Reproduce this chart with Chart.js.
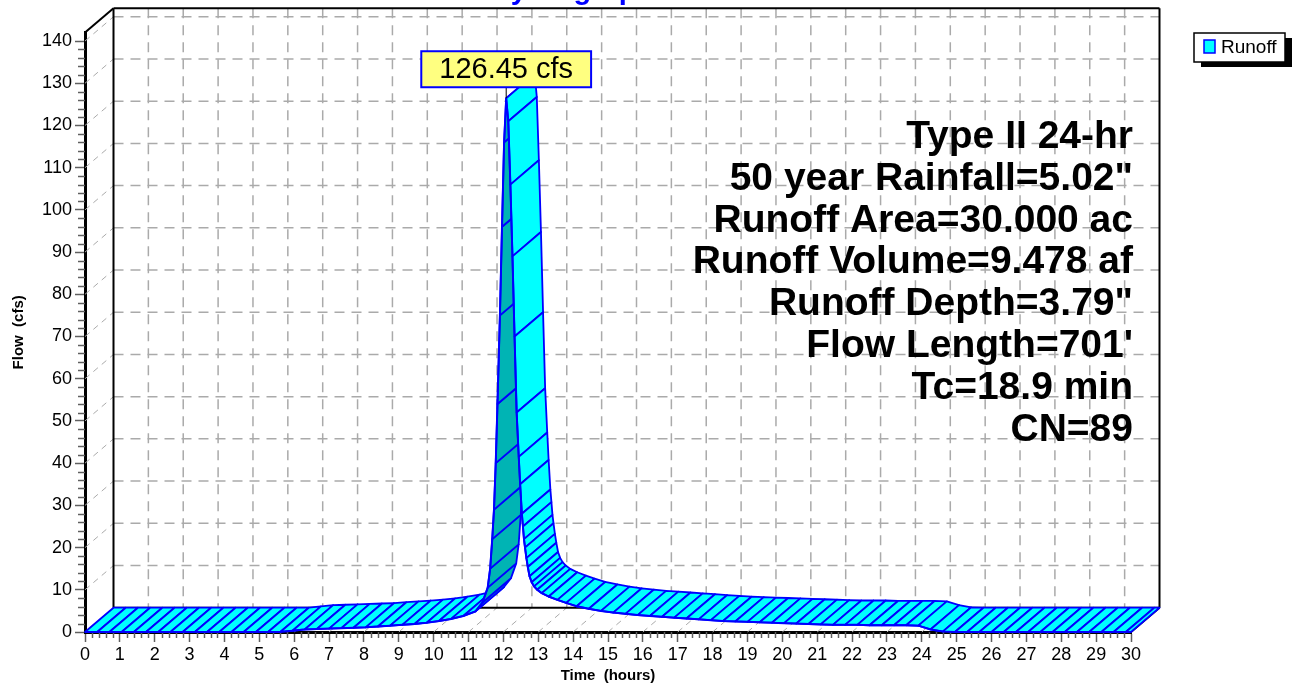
<!DOCTYPE html>
<html>
<head>
<meta charset="utf-8">
<title>Hydrograph</title>
<script src="https://cdn.jsdelivr.net/npm/chart.js@4.4.1/dist/chart.umd.min.js"></script>
<style>
  html, body { margin: 0; padding: 0; background: #fff; }
  #wrap { position: relative; width: 1294px; height: 685px; }
</style>
</head>
<body>
<div id="wrap"><canvas id="hydroChart" width="1294" height="685"></canvas></div>
<script>
// hydrograph values (time in hours, flow in cfs)
const timeHours = [
  0, 0.35, 0.7, 1.05, 1.4, 1.75, 2.1, 2.45, 2.8, 3.15,
  3.5, 3.85, 4.2, 4.55, 4.9, 5.25, 5.6, 5.95, 6.3, 6.65,
  7.0, 7.35, 7.7, 8.05, 8.4, 8.75, 9.1, 9.45, 9.8, 10.15,
  10.5, 10.85, 11.2, 11.4, 11.55, 11.62, 11.68, 11.73, 11.78, 11.83,
  11.9, 11.96, 12.02, 12.08, 12.14, 12.2, 12.26, 12.32, 12.38, 12.44,
  12.48, 12.53, 12.56, 12.59, 12.62, 12.66, 12.7, 12.75, 12.81, 12.88,
  12.97, 13.1, 13.3, 13.55, 13.8, 14.1, 14.45, 14.8, 15.15, 15.5,
  15.85, 16.2, 16.55, 16.9, 17.25, 17.6, 17.95, 18.3, 18.65, 19.0,
  19.35, 19.7, 20.05, 20.4, 20.75, 21.1, 21.45, 21.8, 22.15, 22.5,
  22.85, 23.2, 23.55, 23.9, 24.25, 24.6, 24.95, 25.3, 25.65, 26.0,
  26.35, 26.7, 27.05, 27.4, 27.75, 28.1, 28.45, 28.8, 29.15, 29.5,
  29.85, 30
];
const runoffCfs = [
  0, 0, 0, 0, 0, 0, 0, 0, 0, 0,
  0, 0, 0, 0, 0, 0, 0, 0.3, 0.6, 0.7,
  0.8, 0.9, 1.0, 1.1, 1.3, 1.5, 1.7, 1.9, 2.2, 2.6,
  3.1, 3.8, 4.9, 7.0, 10.5, 15, 22, 29, 40, 54,
  75, 96, 116, 126.45, 121, 106, 89, 70, 52, 41.5,
  35, 28, 25, 22, 20, 17.5, 15.4, 13.2, 11.8, 10.8,
  10.0, 9.2, 8.4, 7.6, 6.9, 6.1, 5.5, 5.0, 4.6, 4.3,
  4.0, 3.8, 3.6, 3.4, 3.2, 3.0, 2.8, 2.6, 2.5, 2.4,
  2.3, 2.2, 2.1, 2.0, 1.9, 1.8, 1.7, 1.7, 1.7, 1.6,
  1.6, 1.6, 1.6, 1.5, 0.6, 0.1, 0, 0, 0, 0,
  0, 0, 0, 0, 0, 0, 0, 0, 0, 0,
  0, 0
];

const xTickLabels = [0, 1, 2, 3, 4, 5, 6, 7, 8, 9, 10, 11, 12, 13, 14, 15,
  16, 17, 18, 19, 20, 21, 22, 23, 24, 25, 26, 27, 28, 29, 30];
const yTickLabels = [0, 10, 20, 30, 40, 50, 60, 70, 80, 90, 100, 110, 120, 130, 140];

const seriesName = 'Runoff';
const chartTitle = 'Hydrograph';
const summaryLines = [
  'Type II 24-hr',
  '50 year Rainfall=5.02"',
  'Runoff Area=30.000 ac',
  'Runoff Volume=9.478 af',
  'Runoff Depth=3.79"',
  "Flow Length=701'",
  'Tc=18.9 min',
  'CN=89'
];

// depth of the 3d box, in pixels
const DX = 28.5;
const DY = -24.3;
const FONT = "'Liberation Sans', Arial, sans-serif";

const points = timeHours.map((t, i) => ({ x: t, y: runoffCfs[i] }));

function line(ctx, x1, y1, x2, y2) {
  ctx.beginPath();
  ctx.moveTo(x1, y1);
  ctx.lineTo(x2, y2);
  ctx.stroke();
}

const box3d = {
  id: 'box3d',
  beforeDatasetsDraw(chart) {
    const ctx = chart.ctx;
    const a = chart.chartArea;
    const xs = chart.scales.x, ys = chart.scales.y;
    const bx0 = a.left + DX, bx1 = a.right + DX;
    const byTop = a.top + DY, byBot = a.bottom + DY;

    ctx.save();
    // back wall grid
    ctx.strokeStyle = '#aaaaaa';
    ctx.lineWidth = 1.5;
    ctx.setLineDash([10, 7]);
    xTickLabels.forEach(t => {
      if (t === 0 || t === 30) return;
      const x = xs.getPixelForValue(t) + DX;
      line(ctx, x, byTop, x, byBot);
    });
    yTickLabels.forEach(v => {
      if (v === 0) return;
      const y = ys.getPixelForValue(v) + DY;
      line(ctx, bx0, y, bx1, y);
    });
    // floor and left wall grid
    ctx.lineWidth = 1;
    ctx.setLineDash([6, 5]);
    xTickLabels.forEach(t => {
      if (t === 0) return;
      const x = xs.getPixelForValue(t);
      line(ctx, x, a.bottom, x + DX, byBot);
    });
    yTickLabels.forEach(v => {
      if (v === 0) return;
      const y = ys.getPixelForValue(v);
      line(ctx, a.left, y, a.left + DX, y + DY);
    });
    ctx.setLineDash([]);

    // box frame
    ctx.strokeStyle = '#000';
    ctx.lineWidth = 2;
    line(ctx, bx0, byTop, bx1, byTop);
    line(ctx, bx0, byTop, bx0, byBot);
    line(ctx, bx1, byTop, bx1, byBot);
    line(ctx, bx0, byBot, bx1, byBot);
    line(ctx, a.left, a.top, bx0, byTop);
    line(ctx, a.right, a.bottom, bx1, byBot);

    // minor ticks
    ctx.strokeStyle = '#606060';
    ctx.lineWidth = 1.5;
    for (let v = 2; v < 142; v += 2) {
      if (v % 10 === 0) continue;
      const y = Math.round(ys.getPixelForValue(v)) + 0.5;
      line(ctx, a.left - 7, y, a.left, y);
    }
    for (let k = 1; k < 150; k++) {
      if (k % 5 === 0) continue;
      const x = Math.round(xs.getPixelForValue(k / 5)) + 0.5;
      line(ctx, x, a.bottom, x, a.bottom + 6);
    }

    // ribbon surface built from the dataset points
    const pts = chart.getDatasetMeta(0).data;
    ctx.lineJoin = 'round';
    ctx.strokeStyle = '#0000ff';
    ctx.lineWidth = 1.8;
    for (let i = 0; i < pts.length - 1; i++) {
      const p = pts[i], q = pts[i + 1];
      const cross = (q.x - p.x) * DY - (q.y - p.y) * DX;
      ctx.beginPath();
      ctx.moveTo(p.x, p.y);
      ctx.lineTo(q.x, q.y);
      ctx.lineTo(q.x + DX, q.y + DY);
      ctx.lineTo(p.x + DX, p.y + DY);
      ctx.closePath();
      ctx.fillStyle = cross > 0 ? '#00b4b4' : '#00ffff';
      ctx.fill();
      ctx.stroke();
    }
    ctx.restore();
  },
  afterDraw(chart) {
    const ctx = chart.ctx;
    const a = chart.chartArea;
    const pts = chart.getDatasetMeta(0).data;
    ctx.save();

    // peak label
    let iMax = 0;
    runoffCfs.forEach((v, i) => { if (v > runoffCfs[iMax]) iMax = i; });
    const peak = pts[iMax];
    const label = runoffCfs[iMax].toFixed(2) + ' cfs';
    ctx.font = '29px ' + FONT;
    const w = ctx.measureText(label).width + 36;
    const h = 36;
    const boxBottom = peak.y - 11;
    ctx.strokeStyle = '#000';
    ctx.lineWidth = 1;
    line(ctx, peak.x, boxBottom, peak.x, peak.y);
    ctx.fillStyle = '#ffff80';
    ctx.fillRect(peak.x - w / 2, boxBottom - h, w, h);
    ctx.strokeStyle = '#0000ff';
    ctx.lineWidth = 2;
    ctx.strokeRect(peak.x - w / 2, boxBottom - h, w, h);
    ctx.fillStyle = '#000';
    ctx.textAlign = 'center';
    ctx.textBaseline = 'middle';
    ctx.fillText(label, peak.x, boxBottom - h / 2 + 1);

    // summary block
    ctx.font = 'bold 39px ' + FONT;
    ctx.textAlign = 'right';
    summaryLines.forEach((s, i) => {
      ctx.fillText(s, a.right + 2, 137 + i * 41.9);
    });

    // legend
    const lx = 1194, ly = 33, lw = 91, lh = 29;
    ctx.fillStyle = '#000';
    ctx.fillRect(lx + 7, ly + 5, lw, lh);
    ctx.fillStyle = '#fff';
    ctx.fillRect(lx, ly, lw, lh);
    ctx.strokeStyle = '#000';
    ctx.lineWidth = 1.5;
    ctx.strokeRect(lx, ly, lw, lh);
    ctx.fillStyle = '#00ffff';
    ctx.fillRect(lx + 10, ly + 7, 11, 13);
    ctx.strokeStyle = '#0000ff';
    ctx.lineWidth = 1.5;
    ctx.strokeRect(lx + 10, ly + 7, 11, 13);
    ctx.fillStyle = '#000';
    ctx.font = '19px ' + FONT;
    ctx.textAlign = 'left';
    ctx.fillText(seriesName, lx + 27, ly + 15);

    // title, mostly clipped by the top edge
    ctx.fillStyle = '#0000ff';
    ctx.font = 'bold 29px ' + FONT;
    ctx.textAlign = 'center';
    ctx.textBaseline = 'alphabetic';
    ctx.fillText(chartTitle, 572, -1);
    ctx.restore();
  }
};

Chart.defaults.font.family = FONT;
Chart.defaults.color = '#000';

const ctx = document.getElementById('hydroChart').getContext('2d');
const chart = new Chart(ctx, {
  type: 'line',
  data: {
    datasets: [{
      label: seriesName,
      data: points,
      borderColor: '#0000ff',
      borderWidth: 2,
      pointRadius: 0,
      fill: false,
      tension: 0
    }]
  },
  options: {
    responsive: false,
    animation: false,
    devicePixelRatio: 1,
    events: [],
    layout: { padding: { top: 32.6, right: 163, bottom: 0, left: 0 } },
    plugins: {
      legend: { display: false },
      tooltip: { enabled: false },
      title: { display: false }
    },
    scales: {
      x: {
        type: 'linear',
        min: 0,
        max: 30,
        afterBuildTicks: s => { s.ticks = xTickLabels.map(v => ({ value: v })); },
        afterFit: s => { s.height = 53; },
        ticks: { font: { size: 18 }, color: '#000', padding: 2, maxRotation: 0, autoSkip: false },
        grid: { drawOnChartArea: false, drawTicks: true, tickLength: 10, tickColor: '#606060', tickWidth: 1.5 },
        border: { display: true, color: '#000', width: 3 },
        title: { display: true, text: 'Time  (hours)', font: { size: 15, weight: 'bold' }, padding: { top: 2, bottom: 0 } }
      },
      y: {
        type: 'linear',
        min: 0,
        max: 142,
        afterBuildTicks: s => { s.ticks = yTickLabels.map(v => ({ value: v })); },
        afterFit: s => { s.width = 85; },
        ticks: { font: { size: 18 }, color: '#000', padding: 3, autoSkip: false },
        grid: { drawOnChartArea: false, drawTicks: true, tickLength: 10, tickColor: '#606060', tickWidth: 1.5 },
        border: { display: true, color: '#000', width: 3 },
        title: { display: true, text: 'Flow  (cfs)', font: { size: 15, weight: 'bold' }, padding: { top: 10, bottom: 0 } }
      }
    }
  },
  plugins: [box3d]
});
</script>
</body>
</html>
